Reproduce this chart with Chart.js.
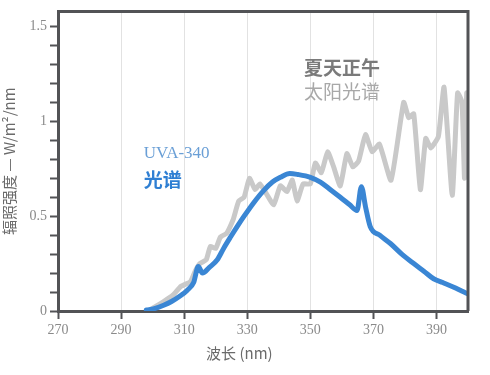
<!DOCTYPE html>
<html>
<head>
<meta charset="utf-8">
<script src="https://cdn.jsdelivr.net/npm/chart.js@4/dist/chart.umd.min.js"></script>
<style>
  html, body { margin: 0; padding: 0; background: #fff; }
  #wrap { width: 490px; height: 375px; position: relative; }
</style>
</head>
<body>
<div id="wrap"><canvas id="spectrumChart"></canvas></div>
<script>
// UVA-340 灯管光谱
const uvaWl  = [298, 300.5, 303.5, 306, 308.8, 311, 313, 314.5, 315.8, 318, 320.5, 322.5, 324.7, 327, 329, 332, 335.2, 338, 340.5, 343.5, 346, 350, 353.2, 356.4, 359.5, 362.5, 364.8, 366.2, 367.5, 369, 372, 375.4, 379, 382.8, 386, 389.1, 392, 395.5, 398, 400];
const uvaVal = [0.005, 0.012, 0.03, 0.05, 0.08, 0.11, 0.15, 0.235, 0.2, 0.23, 0.27, 0.33, 0.39, 0.45, 0.5, 0.57, 0.635, 0.68, 0.705, 0.725, 0.72, 0.705, 0.68, 0.64, 0.6, 0.56, 0.53, 0.655, 0.55, 0.445, 0.4, 0.356, 0.3, 0.25, 0.21, 0.17, 0.15, 0.125, 0.105, 0.09];

// 夏天正午太阳光谱
const sunWl  = [299.5, 303.5, 306.5, 309, 312, 313.5, 315, 317, 318.3, 320, 321.5, 323.5, 325.5, 327.3, 329, 330.7, 332.5, 334, 336, 338.4, 340.5, 342.6, 344.3, 345.8, 347.7, 350, 351.6, 353.5, 355.5, 357.4, 359.5, 361.6, 363.5, 365.3, 367.5, 369.6, 371.9, 375.6, 379.6, 381.2, 382.8, 384.9, 386.6, 388.2, 390.6, 392.4, 395, 396.7, 398.1, 398.9, 399.6, 400];
const sunVal = [0.01, 0.05, 0.085, 0.13, 0.155, 0.21, 0.25, 0.27, 0.34, 0.33, 0.39, 0.41, 0.48, 0.58, 0.6, 0.7, 0.64, 0.67, 0.62, 0.56, 0.66, 0.63, 0.69, 0.58, 0.67, 0.67, 0.78, 0.73, 0.84, 0.76, 0.66, 0.83, 0.76, 0.79, 0.93, 0.84, 0.88, 0.69, 1.1, 1.02, 1.04, 0.64, 0.91, 0.86, 0.92, 1.18, 0.61, 1.15, 1.1, 0.7, 1.15, 1.1];

const xTicks = [270, 290, 310, 330, 350, 370, 390];
const yTicks = [0, 0.1, 0.2, 0.3, 0.4, 0.5, 0.6, 0.7, 0.8, 0.9, 1, 1.1, 1.2, 1.3, 1.4, 1.5];
const yTickLabels = { '0': '0', '0.5': '0.5', '1': '1', '1.5': '1.5' };

const frameColor = '#525356';
const labelGray = '#8a8a8a';

// 图框上边、右边 + 图中文字
const decorPlugin = {
    id: 'decor',
    afterDraw(chart) {
        const { ctx, chartArea: a, scales } = chart;
        ctx.save();
        ctx.strokeStyle = frameColor;
        ctx.lineWidth = 3;
        ctx.beginPath();
        ctx.moveTo(a.left, a.top);
        ctx.lineTo(a.right, a.top);
        ctx.lineTo(a.right, a.bottom);
        ctx.stroke();

        const x = scales.x, y = scales.y;
        ctx.textBaseline = 'middle';
        ctx.textAlign = 'left';
        ctx.fillStyle = '#6a9fd6';
        ctx.font = '17px "Liberation Serif", serif';
        ctx.fillText('UVA-340', x.getPixelForValue(297.2), y.getPixelForValue(0.83));
        ctx.fillStyle = '#2f7fd3';
        ctx.font = 'bold 19px "Noto Sans CJK SC", sans-serif';
        ctx.fillText('光谱', x.getPixelForValue(297.2), y.getPixelForValue(0.69));

        ctx.fillStyle = '#7a7a7a';
        ctx.font = 'bold 19px "Noto Sans CJK SC", sans-serif';
        ctx.fillText('夏天正午', x.getPixelForValue(348), y.getPixelForValue(1.285));
        ctx.fillStyle = '#a8a8a8';
        ctx.font = '19px "Noto Sans CJK SC", sans-serif';
        ctx.fillText('太阳光谱', x.getPixelForValue(348), y.getPixelForValue(1.157));

        // x 轴标题（原图略偏左）
        ctx.textAlign = 'center';
        ctx.fillStyle = '#6a6a6a';
        ctx.font = '15px "Noto Sans CJK SC", sans-serif';
        ctx.fillText('波长 (nm)', x.getPixelForValue(327.5), a.bottom + 42);
        ctx.restore();
    }
};

const ctx = document.getElementById('spectrumChart').getContext('2d');
new Chart(ctx, {
    type: 'line',
    data: {
        datasets: [{
            label: 'UVA-340 光谱',
            data: uvaWl.map((w, i) => ({ x: w, y: uvaVal[i] })),
            borderColor: '#3a86d4', borderWidth: 5, pointRadius: 0,
            cubicInterpolationMode: 'monotone', borderJoinStyle: 'round', borderCapStyle: 'round', fill: false
        }, {
            label: '夏天正午太阳光谱',
            data: sunWl.map((w, i) => ({ x: w, y: sunVal[i] })),
            borderColor: '#c9c9c9', borderWidth: 5, pointRadius: 0,
            tension: 0.15, borderJoinStyle: 'round', borderCapStyle: 'round', fill: false
        }]
    },
    options: {
        responsive: true, maintainAspectRatio: false, animation: false,
        layout: { padding: { top: 11, right: 22, left: 0, bottom: 0 } },
        plugins: { legend: { display: false }, tooltip: { enabled: false } },
        scales: {
            x: {
                type: 'linear', min: 270, max: 400,
                afterFit: s => { s.height = 64; },
                afterBuildTicks: s => { s.ticks = xTicks.map(v => ({ value: v })); },
                border: { color: frameColor, width: 3 },
                grid: { color: '#e2e2e2', lineWidth: 1, tickLength: 8, tickColor: frameColor, tickWidth: 2 },
                ticks: { color: labelGray, font: { family: '"Liberation Serif", serif', size: 14 }, padding: 3, maxRotation: 0 },
                title: { display: false }
            },
            y: {
                min: 0, max: 1.58,
                afterFit: s => { s.width = 58; },
                afterBuildTicks: s => { s.ticks = yTicks.map(v => ({ value: v })); },
                border: { color: frameColor, width: 3 },
                grid: { drawOnChartArea: false, tickLength: 8, tickColor: frameColor, tickWidth: 2 },
                ticks: {
                    color: labelGray, font: { family: '"Liberation Serif", serif', size: 14 }, padding: 3,
                    callback: v => yTickLabels[String(Math.round(v * 10) / 10)] || ''
                },
                title: { display: true, text: '辐照强度 — W/m²/nm', color: '#6a6a6a', font: { family: '"Noto Sans CJK SC", sans-serif', size: 15 }, padding: { top: 0, bottom: 0 } }
            }
        }
    },
    plugins: [decorPlugin]
});
</script>
</body>
</html>
